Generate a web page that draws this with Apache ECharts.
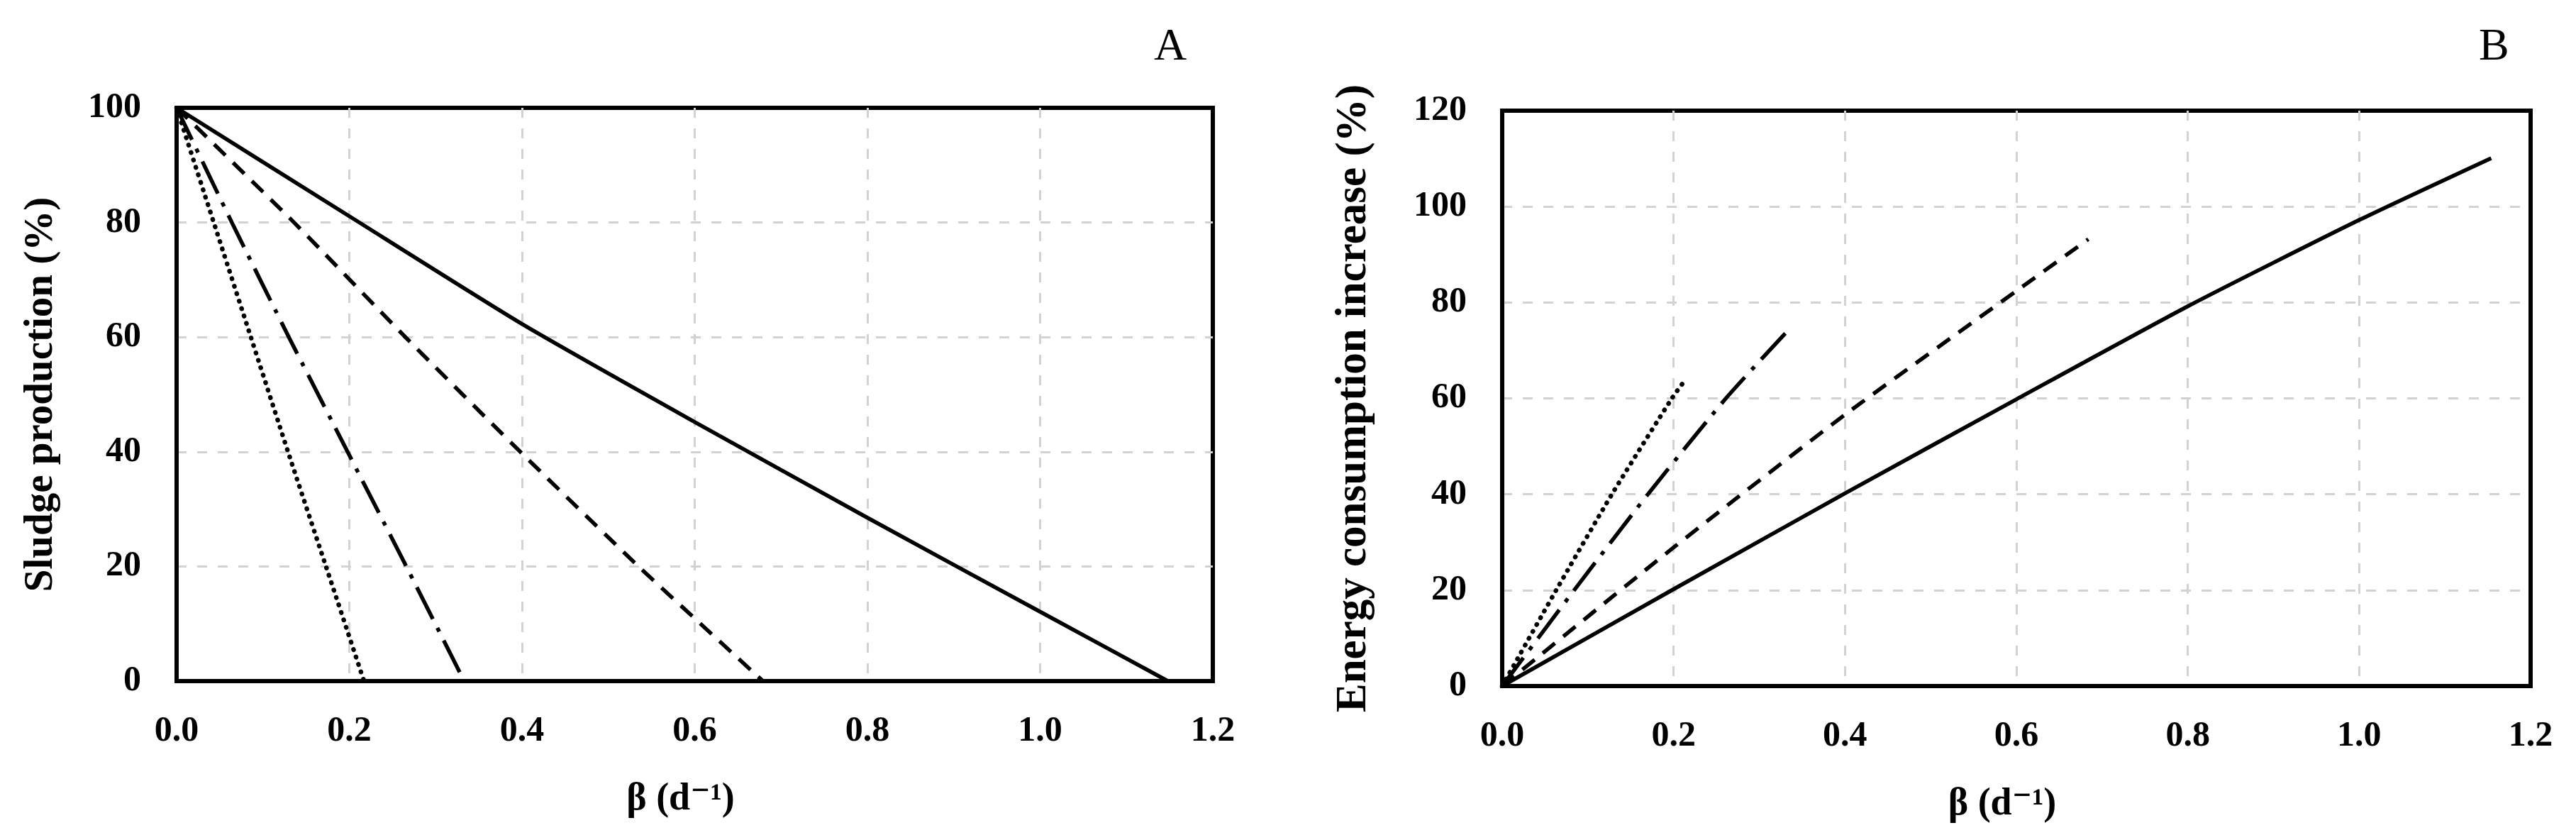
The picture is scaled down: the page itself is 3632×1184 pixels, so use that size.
<!DOCTYPE html>
<html>
<head>
<meta charset="utf-8">
<script src="https://cdn.jsdelivr.net/npm/echarts@6/dist/echarts.min.js"></script>
<style>
  html, body { margin: 0; padding: 0; background: #fff; }
  #chart { width: 3632px; height: 1184px; }
</style>
</head>
<body>
<div id="chart"></div>
<script>
// panel A: sludge production (%) vs beta (d-1)
var sludgeSolid   = [[0, 100], [0.2, 81.1], [0.4, 62.3], [0.6, 45.2], [0.8, 28.5], [1.0, 12.1], [1.148, 0]];
var sludgeDashed  = [[0, 100], [0.136, 80], [0.265, 60], [0.398, 40], [0.535, 20], [0.679, 0]];
var sludgeDashDot = [[0, 100], [0.064, 80], [0.130, 60], [0.198, 40], [0.266, 20], [0.333, 0]];
var sludgeDotted  = [[0, 100], [0.043, 80], [0.086, 60], [0.129, 40], [0.173, 20], [0.217, 0]];

// panel B: energy consumption increase (%) vs beta (d-1)
var energySolid   = [[0, 0], [0.2, 20.2], [0.4, 40.2], [0.6, 59.8], [0.8, 79.2], [1.0, 97.2], [1.154, 110.1]];
var energyDashed  = [[0, 0], [0.2, 28.9], [0.4, 56.6], [0.6, 82.4], [0.684, 93.2]];
var energyDashDot = [[0, 0], [0.084, 20], [0.170, 40], [0.261, 60], [0.331, 73.7]];
var energyDotted  = [[0, 0], [0.063, 20], [0.128, 40], [0.198, 60], [0.215, 64.2]];

var xName = 'β (d⁻¹)';
var yNameA = 'Sludge production (%)';
var yNameB = 'Energy consumption increase (%)';

var FONT = '"Liberation Serif", "DejaVu Serif", serif';

var styles = {
    solid:   { type: 'solid', width: 5.5, cap: 'butt' },
    dashed:  { type: [22, 15], width: 5.5, cap: 'butt' },
    dashdot: { type: [50, 14, 6, 14], width: 5.5, cap: 'butt' },
    dotted:  { type: [0.5, 10.5], width: 6.5, cap: 'round' }
};

function line(data, st, idx) {
    return {
        type: 'line',
        data: data,
        xAxisIndex: idx,
        yAxisIndex: idx,
        showSymbol: false,
        symbol: 'none',
        smooth: 0.2,
        lineStyle: { color: '#000', width: st.width, type: st.type, cap: st.cap },
        z: 5
    };
}

function xAx(idx) {
    return {
        gridIndex: idx,
        type: 'value',
        min: 0, max: 1.2, interval: 0.2,
        name: xName,
        nameLocation: 'middle',
        nameGap: 140,
        nameTextStyle: { fontFamily: FONT, fontWeight: 'bold', fontSize: 54, color: '#000', padding: [0, 40, 0, 0] },
        axisLine: { show: true, onZero: false, lineStyle: { color: '#000', width: 6 } },
        axisTick: { show: false },
        axisLabel: {
            margin: 46, fontFamily: FONT, fontWeight: 'bold', fontSize: 50, color: '#000',
            formatter: function (v) { return v.toFixed(1); }
        },
        splitLine: { show: true, showMinLine: false, showMaxLine: false, lineStyle: { color: '#d2d2d2', width: 3, type: [14, 15] } }
    };
}

function yAx(idx, max, name, gap, fs) {
    return {
        gridIndex: idx,
        type: 'value',
        min: 0, max: max, interval: 20,
        name: name,
        nameLocation: 'middle',
        nameGap: gap,
        nameTextStyle: { fontFamily: FONT, fontWeight: 'bold', fontSize: fs, color: '#000' },
        axisLine: { show: true, lineStyle: { color: '#000', width: 6 } },
        axisTick: { show: false },
        axisLabel: { margin: 50, fontFamily: FONT, fontWeight: 'bold', fontSize: 50, color: '#000' },
        splitLine: { show: true, showMinLine: false, showMaxLine: false, lineStyle: { color: '#d2d2d2', width: 3, type: [14, 15] } }
    };
}

var chart = echarts.init(document.getElementById('chart'), null, { renderer: 'canvas' });

chart.setOption({
    backgroundColor: '#fff',
    animation: false,
    title: [
        { text: 'A', left: 1622, top: 30, textStyle: { fontFamily: FONT, fontWeight: 'normal', fontSize: 64, color: '#000' } },
        { text: 'B', left: 3490, top: 30, textStyle: { fontFamily: FONT, fontWeight: 'normal', fontSize: 64, color: '#000' } }
    ],
    grid: [
        { left: 249, top: 152, width: 1461, height: 808, show: true, borderColor: '#000', borderWidth: 6, backgroundColor: 'transparent' },
        { left: 2118, top: 156, width: 1450, height: 811, show: true, borderColor: '#000', borderWidth: 6, backgroundColor: 'transparent' }
    ],
    xAxis: [xAx(0), xAx(1)],
    yAxis: [yAx(0, 100, yNameA, 162, 57), yAx(1, 120, yNameB, 178, 61)],
    series: [
        line(sludgeSolid, styles.solid, 0),
        line(sludgeDashed, styles.dashed, 0),
        line(sludgeDashDot, styles.dashdot, 0),
        line(sludgeDotted, styles.dotted, 0),
        line(energySolid, styles.solid, 1),
        line(energyDashed, styles.dashed, 1),
        line(energyDashDot, styles.dashdot, 1),
        line(energyDotted, styles.dotted, 1)
    ]
});
</script>
</body>
</html>
